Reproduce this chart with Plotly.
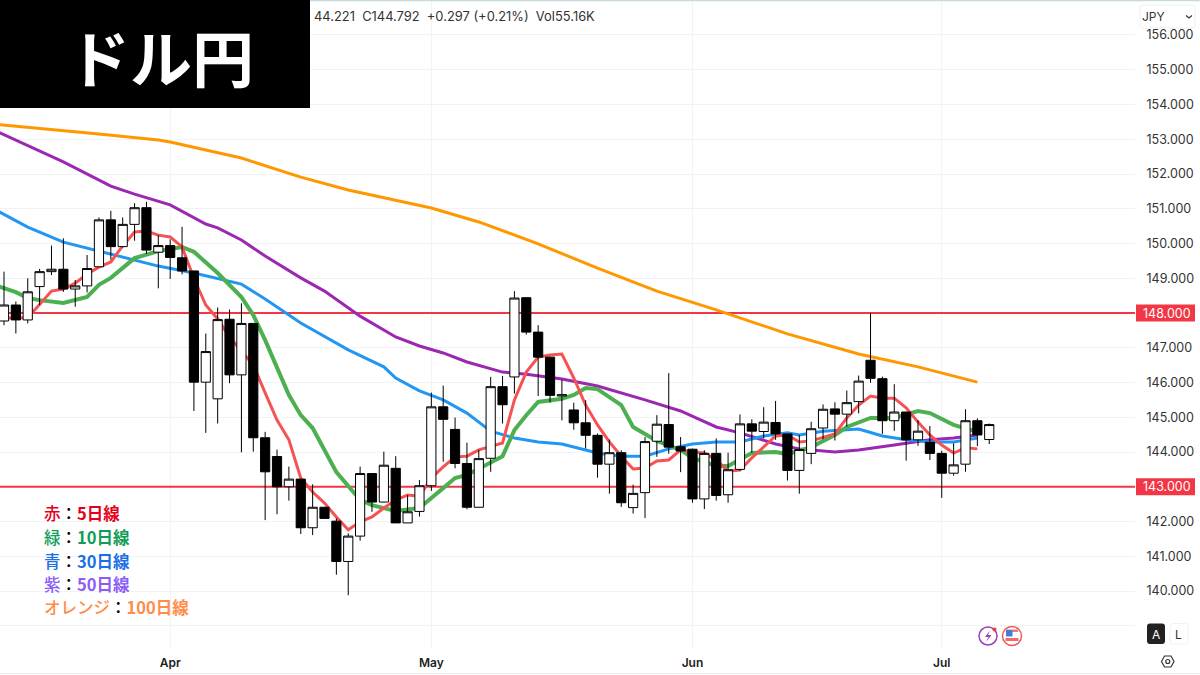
import plotly.graph_objects as go

# daily candles, first bar sits left of the Apr tick
bar_index = list(range(84))
opens = [
    147.77, 148.23, 147.80, 148.76, 149.19, 149.26, 148.69, 148.78, 149.33, 150.68,
    149.91, 150.55, 151.03, 149.75, 149.94, 149.59, 149.21, 146.01, 145.53, 147.82,
    146.22, 147.70, 144.41, 143.87, 143.00, 143.22, 141.82, 142.41, 142.01, 140.85,
    141.58, 143.38, 142.56, 143.53, 141.96, 142.29, 143.03, 145.30, 144.65, 143.67,
    142.41, 143.82, 145.88, 146.16, 148.44, 147.45, 146.73, 145.61, 145.21, 144.84,
    144.48, 143.65, 143.98, 142.40, 142.83, 144.31, 144.79, 144.15, 144.08, 142.65,
    143.96, 142.77, 143.50, 144.81, 144.59, 144.85, 144.52, 143.47, 143.96, 144.69,
    145.24, 145.09, 145.45, 146.64, 146.11, 144.90, 145.15, 144.35, 144.28, 143.96,
    143.39, 143.65, 144.90, 144.36,
]
highs = [
    149.19, 148.33, 149.00, 149.27, 149.94, 150.15, 148.95, 149.67, 150.75, 150.94,
    150.75, 151.16, 151.20, 150.24, 150.12, 150.48, 149.21, 147.41, 148.16, 148.10,
    148.28, 147.70, 144.58, 144.07, 143.58, 143.22, 143.07, 142.41, 142.09, 141.66,
    143.58, 143.38, 144.01, 143.88, 142.76, 143.19, 145.71, 145.91, 144.99, 144.27,
    144.06, 146.16, 146.19, 148.63, 148.44, 147.65, 146.73, 146.08, 145.42, 145.49,
    144.53, 144.36, 144.05, 143.06, 144.43, 145.06, 146.27, 144.43, 144.10, 144.05,
    144.39, 143.98, 145.08, 144.94, 145.29, 145.47, 144.52, 144.49, 144.87, 145.37,
    145.43, 145.77, 146.20, 148.00, 146.17, 145.95, 145.16, 144.92, 144.75, 144.04,
    144.25, 145.23, 144.97, 144.82,
]
lows = [
    147.65, 147.41, 147.70, 148.23, 149.09, 148.61, 148.18, 148.59, 149.33, 149.54,
    149.89, 150.08, 149.70, 148.71, 148.98, 149.11, 145.18, 144.55, 144.82, 145.98,
    143.99, 144.01, 142.04, 142.21, 142.60, 141.64, 141.61, 142.09, 140.47, 139.88,
    141.45, 142.28, 142.56, 141.96, 141.96, 142.14, 142.88, 143.72, 143.53, 142.35,
    142.41, 143.43, 144.82, 145.68, 147.38, 145.61, 145.42, 144.91, 144.64, 144.10,
    143.26, 142.80, 142.42, 142.23, 142.10, 143.86, 143.95, 143.42, 142.54, 142.36,
    142.60, 142.54, 143.46, 143.98, 144.39, 144.35, 143.18, 142.80, 143.65, 144.37,
    144.33, 144.73, 145.11, 145.99, 144.52, 144.61, 143.75, 144.18, 143.77, 142.68,
    143.32, 143.43, 144.17, 144.23,
]
closes = [
    148.23, 147.80, 148.61, 149.19, 149.26, 148.69, 148.78, 149.28, 150.68, 149.91,
    150.55, 151.03, 149.81, 149.94, 149.60, 149.21, 146.01, 146.89, 147.81, 146.22,
    147.70, 144.41, 143.43, 143.00, 143.22, 141.82, 142.41, 142.09, 140.85, 141.58,
    143.38, 142.56, 143.62, 141.96, 142.28, 143.03, 145.30, 144.94, 143.67, 142.41,
    143.81, 145.88, 145.36, 148.43, 147.45, 146.73, 145.63, 145.65, 144.84, 144.48,
    143.65, 143.98, 142.54, 142.81, 144.30, 144.80, 144.14, 144.03, 142.65, 143.96,
    142.75, 143.49, 144.81, 144.60, 144.86, 144.52, 143.47, 144.07, 144.67, 145.23,
    145.09, 145.42, 146.04, 146.12, 144.90, 145.15, 144.35, 144.60, 143.96, 143.39,
    143.63, 144.90, 144.49, 144.79,
]

ma5_x = list(range(-1, 83))
ma5 = [
    147.84, 147.86, 147.86, 147.86, 148.26, 148.63, 148.69, 148.86, 149.12, 149.32,
    149.47, 149.93, 150.33, 150.36, 150.24, 150.19, 149.90, 149.00, 148.23, 147.83,
    147.31, 146.91, 146.50, 145.70, 144.92, 144.35, 143.25, 142.85, 142.53, 142.13,
    141.76, 141.99, 142.13, 142.39, 142.62, 142.76, 142.73, 143.25, 143.57, 143.86,
    143.88, 144.06, 144.17, 144.26, 145.50, 146.30, 146.73, 146.79, 146.82, 146.13,
    145.35, 144.78, 144.29, 143.88, 143.51, 143.54, 143.74, 143.77, 144.06, 144.00,
    143.97, 143.77, 143.45, 143.48, 143.83, 144.14, 144.46, 144.49, 144.29, 144.32,
    144.43, 144.52, 144.98, 145.35, 145.61, 145.55, 145.55, 145.27, 144.86, 144.49,
    144.20, 143.97, 144.12, 144.09,
]
ma10_x = [
    -1, 1, 2, 3, 5, 7, 8, 9, 11, 13, 15, 16, 18, 20, 21, 22, 24, 25, 26, 28, 30, 31,
    33, 35, 37, 38, 39, 40, 42, 43, 44, 45, 47, 48, 49, 50, 52, 53, 55, 57, 58, 60,
    61, 63, 65, 66, 68, 70, 71, 73, 75, 77, 78, 80, 81, 82,
]
ma10 = [
    148.83, 148.60, 148.43, 148.37, 148.29, 148.46, 148.81, 149.01, 149.58, 149.78,
    149.90, 149.76, 149.15, 148.46, 147.94, 147.22, 145.64, 145.06, 144.69, 143.42,
    142.62, 142.47, 142.30, 142.39, 142.96, 143.25, 143.34, 143.51, 143.88, 144.63,
    145.06, 145.44, 145.53, 145.64, 145.84, 145.81, 145.35, 144.72, 144.32, 144.06,
    143.83, 143.60, 143.60, 143.97, 144.00, 143.94, 144.14, 144.49, 144.72, 144.98,
    144.98, 145.18, 145.12, 144.78, 144.69, 144.58,
]
ma30_x = [
    -1, 2, 5, 8, 9, 11, 13, 16, 18, 20, 22, 25, 29, 32, 33, 35, 37, 39, 41, 43, 45,
    47, 50, 52, 54, 56, 58, 60, 62, 64, 66, 67, 69, 72, 74, 76, 78, 80, 82,
]
ma30 = [
    151.02, 150.47, 150.04, 149.78, 149.70, 149.53, 149.35, 149.15, 148.98, 148.83,
    148.40, 147.71, 146.94, 146.45, 146.13, 145.76, 145.50, 145.12, 144.60, 144.40,
    144.29, 144.23, 143.97, 143.88, 143.88, 144.09, 144.23, 144.29, 144.29, 144.46,
    144.55, 144.49, 144.60, 144.66, 144.46, 144.35, 144.29, 144.29, 144.40,
]
ma50_x = [
    -1, 2, 5, 9, 11, 14, 17, 18, 20, 22, 25, 27, 30, 33, 35, 37, 39, 42, 44, 47, 50,
    54, 57, 60, 62, 65, 67, 70, 72, 75, 78, 80, 82,
]
ma50 = [
    153.29, 152.83, 152.35, 151.65, 151.42, 151.11, 150.56, 150.45, 150.10, 149.64,
    149.01, 148.63, 147.91, 147.31, 147.05, 146.85, 146.59, 146.30, 146.24, 146.10,
    145.90, 145.50, 145.18, 144.72, 144.55, 144.23, 144.09, 144.00, 144.06, 144.20,
    144.35, 144.40, 144.49,
]
ma100_x = [-1, 4, 8, 13, 14, 20, 25, 29, 36, 40, 45, 50, 55, 60, 62, 66, 72, 77, 82]
ma100 = [
    153.44, 153.29, 153.15, 152.98, 152.92, 152.46, 151.91, 151.54, 151.02, 150.62,
    149.99, 149.29, 148.63, 148.09, 147.86, 147.40, 146.82, 146.45, 146.01,
]

month_ticks = [14, 36, 58, 79]
month_labels = ["Apr", "May", "Jun", "Jul"]
price_ticks = list(range(139, 157))
level_lines = [148, 143]

legend_rows = [
    ("赤", "5日線", "#e3001b"),
    ("緑", "10日線", "#0f9d58"),
    ("青", "30日線", "#1a6fe8"),
    ("紫", "50日線", "#8b5cf6"),
    ("オレンジ", "100日線", "#ff8c4a"),
]

# screen size of the plot area, everything outside it is placed in pixels
PLOT_W = 1135
PLOT_H = 648
X_RANGE = [-0.337, 95.28]
Y_RANGE = [138.36, 157.007]
LEVEL_RED = "#f23645"
TEXT = "#333333"
UI_FONT = "Inter"
JP_FONT = "Noto Sans CJK JP"


def px(x):
    return x / PLOT_W


def py(y):
    return 1 - y / PLOT_H


def round_rect(x0, y0, x1, y1, r):
    """SVG path of a rounded box given in screen pixels."""
    xa, xb, xc, xd = px(x0), px(x0 + r), px(x1 - r), px(x1)
    ya, yb, yc, yd = py(y0), py(y0 + r), py(y1 - r), py(y1)
    return (
        f"M{xb},{ya} L{xc},{ya} Q{xd},{ya} {xd},{yb} L{xd},{yc} Q{xd},{yd} {xc},{yd} "
        f"L{xb},{yd} Q{xa},{yd} {xa},{yc} L{xa},{yb} Q{xa},{ya} {xb},{ya} Z"
    )


def poly(points):
    parts = [f"{px(x)},{py(y)}" for x, y in points]
    return "M" + " L".join(parts)


def box(fig, x0, y0, x1, y1, fill, line=None, width=1):
    fig.add_shape(
        type="rect", xref="paper", yref="paper",
        x0=px(x0), x1=px(x1), y0=py(y1), y1=py(y0),
        fillcolor=fill, line=dict(color=line, width=width if line else 0), layer="above",
    )


def circle(fig, cx, cy, r, fill, line=None, width=1):
    fig.add_shape(
        type="circle", xref="paper", yref="paper",
        x0=px(cx - r), x1=px(cx + r), y0=py(cy + r), y1=py(cy - r),
        fillcolor=fill, line=dict(color=line, width=width if line else 0), layer="above",
    )


def path(fig, d, fill="rgba(0,0,0,0)", line=None, width=1):
    fig.add_shape(
        type="path", xref="paper", yref="paper", path=d,
        fillcolor=fill, line=dict(color=line, width=width if line else 0), layer="above",
    )


def label(fig, x, y, text, size, color=TEXT, family=UI_FONT, anchor="center", weight=None):
    fig.add_annotation(
        xref="paper", yref="paper", x=px(x), y=py(y), text=text, showarrow=False,
        xanchor=anchor, yanchor="middle", align="left", borderpad=0,
        font=dict(family=family, size=size, color=color, weight=weight),
    )


fig = go.Figure()

for level in level_lines:
    fig.add_trace(go.Scatter(x=X_RANGE, y=[level, level], mode="lines",
                             line=dict(color=LEVEL_RED, width=2)))

fig.add_trace(go.Scatter(x=ma100_x, y=ma100, mode="lines", line=dict(color="#ff9800", width=3)))
fig.add_trace(go.Scatter(x=ma50_x, y=ma50, mode="lines", line=dict(color="#9c27b0", width=3)))
fig.add_trace(go.Scatter(x=ma30_x, y=ma30, mode="lines", line=dict(color="#2196f3", width=3)))
fig.add_trace(go.Scatter(x=ma10_x, y=ma10, mode="lines", line=dict(color="#4caf50", width=4)))
fig.add_trace(go.Scatter(x=ma5_x, y=ma5, mode="lines", line=dict(color="#f55353", width=3)))

# candles live on an overlaid axis pair, plotly would otherwise paint the lines over them
fig.add_trace(
    go.Candlestick(
        x=bar_index, open=opens, high=highs, low=lows, close=closes,
        xaxis="x2", yaxis="y2", whiskerwidth=0,
        increasing=dict(fillcolor="#ffffff", line=dict(color="#000000", width=1)),
        decreasing=dict(fillcolor="#000000", line=dict(color="#000000", width=1)),
    )
)

fig.update_layout(
    width=1200, height=675,
    margin=dict(l=0, r=1200 - PLOT_W, t=0, b=675 - PLOT_H),
    paper_bgcolor="#ffffff", plot_bgcolor="#ffffff",
    showlegend=False, boxgap=0.12, boxgroupgap=0.12,
    font=dict(family=UI_FONT, color=TEXT, size=12),
    xaxis=dict(
        range=X_RANGE, tickmode="array", tickvals=month_ticks, ticktext=month_labels,
        showgrid=True, gridcolor="#f3f3f3", gridwidth=1, zeroline=False, showline=False,
        ticks="outside", ticklen=4, tickcolor="#ffffff",
        tickfont=dict(family=UI_FONT, size=12, color="#222222", weight=600),
        rangeslider=dict(visible=False),
    ),
    yaxis=dict(
        range=Y_RANGE, side="right", tickmode="array", tickvals=price_ticks,
        ticktext=["" if t == 139 or t in level_lines else f"{t}.000" for t in price_ticks],
        showgrid=True, gridcolor="#f3f3f3", gridwidth=1, zeroline=False, showline=False,
        ticks="outside", ticklen=8, tickcolor="#ffffff",
        tickfont=dict(family=UI_FONT, size=12.5, color=TEXT),
    ),
    xaxis2=dict(
        range=X_RANGE, overlaying="x", visible=False, anchor="y2",
        rangeslider=dict(visible=False),
    ),
    yaxis2=dict(range=Y_RANGE, overlaying="y", side="right", visible=False, anchor="x2"),
)

# title block
box(fig, 0, 0, 310, 108, "#000000")
label(fig, 161, 56, "ドル円", 62, "#ffffff", JP_FONT, weight=700)

# OHLC read-out, its start is hidden behind the title block
label(fig, 313, 16, "44.221 &nbsp;C144.792 &nbsp;+0.297 (+0.21%) &nbsp;Vol55.16K", 12.9, TEXT, anchor="left")

# chart frame lines
fig.add_shape(type="line", xref="paper", yref="paper", x0=px(310), x1=px(1200), y0=py(0.5), y1=py(0.5),
              line=dict(color="#c9dadd", width=1.5), layer="above")
fig.add_shape(type="line", xref="paper", yref="paper", x0=0, x1=px(1200), y0=py(673.5), y1=py(673.5),
              line=dict(color="#ececec", width=1), layer="above")

# currency selector
path(fig, round_rect(1140, 5, 1195, 28, 3), fill="#ffffff", line="#efefef")
label(fig, 1153.5, 16.5, "JPY", 12, TEXT)
path(fig, poly([(1186, 15.5), (1189, 18), (1192, 15.5)]), line=TEXT, width=1.2)

# price flags on the level lines
for level in level_lines:
    y_px = PLOT_H * (Y_RANGE[1] - level) / (Y_RANGE[1] - Y_RANGE[0])
    box(fig, 1136, y_px - 8.5, 1195, y_px + 8.5, LEVEL_RED)
    label(fig, 1167, y_px, f"{level}.000", 12.5, "#ffffff")

# moving average key
row_y = [513, 537, 561, 584, 607]
for (color_name, ma_name, color), y_px in zip(legend_rows, row_y):
    text = (
        f'<span style="color:{color}">{color_name}</span>'
        f'<span style="color:#000000">：</span>'
        f'<span style="color:{color}"><b>{ma_name}</b></span>'
    )
    label(fig, 43, y_px, text, 16.5, color, JP_FONT, anchor="left", weight=500)

# event icons
circle(fig, 988, 636, 9, "#ffffff", "#9c3fb8", 1.5)
path(fig, poly([(990, 630.5), (985, 637), (988.5, 637), (986, 642), (991.5, 635), (988, 635), (990, 630.5)]) + " Z",
     fill="#9c3fb8")
circle(fig, 994.5, 629.5, 2, "#f23645")
circle(fig, 1012, 636, 9.5, "#ffffff", "#ef5a5a", 1.5)
box(fig, 1006, 629.5, 1018, 632, "#ef7a7a")
box(fig, 1005, 633.5, 1019, 636, "#ffffff")
box(fig, 1005.5, 638, 1018.5, 641, "#ef6a6a")
box(fig, 1006, 630, 1012.5, 636.5, "#3f7fd6")

# auto / log buttons
path(fig, round_rect(1147, 623.5, 1165, 644, 3), fill="#222222")
label(fig, 1156, 634.5, "A", 12, "#ffffff")
path(fig, round_rect(1170, 623.5, 1188, 644, 3), fill="#ffffff", line="#f2f2f2")
label(fig, 1178.5, 634.5, "L", 12, TEXT)

# settings icon
path(fig, poly([(1161.5, 661.5), (1164.5, 656), (1171, 656), (1174, 661.5), (1171, 667), (1164.5, 667)]) + " Z",
     line="#333333", width=1.2)
circle(fig, 1167.8, 661.5, 2, "#ffffff", "#333333", 1.2)

# the page's default body margin would push the fixed-size plot off the window
fig.write_html(
    "out.html",
    config={"displayModeBar": False},
    post_script="document.body.style.margin = '0';",
)
